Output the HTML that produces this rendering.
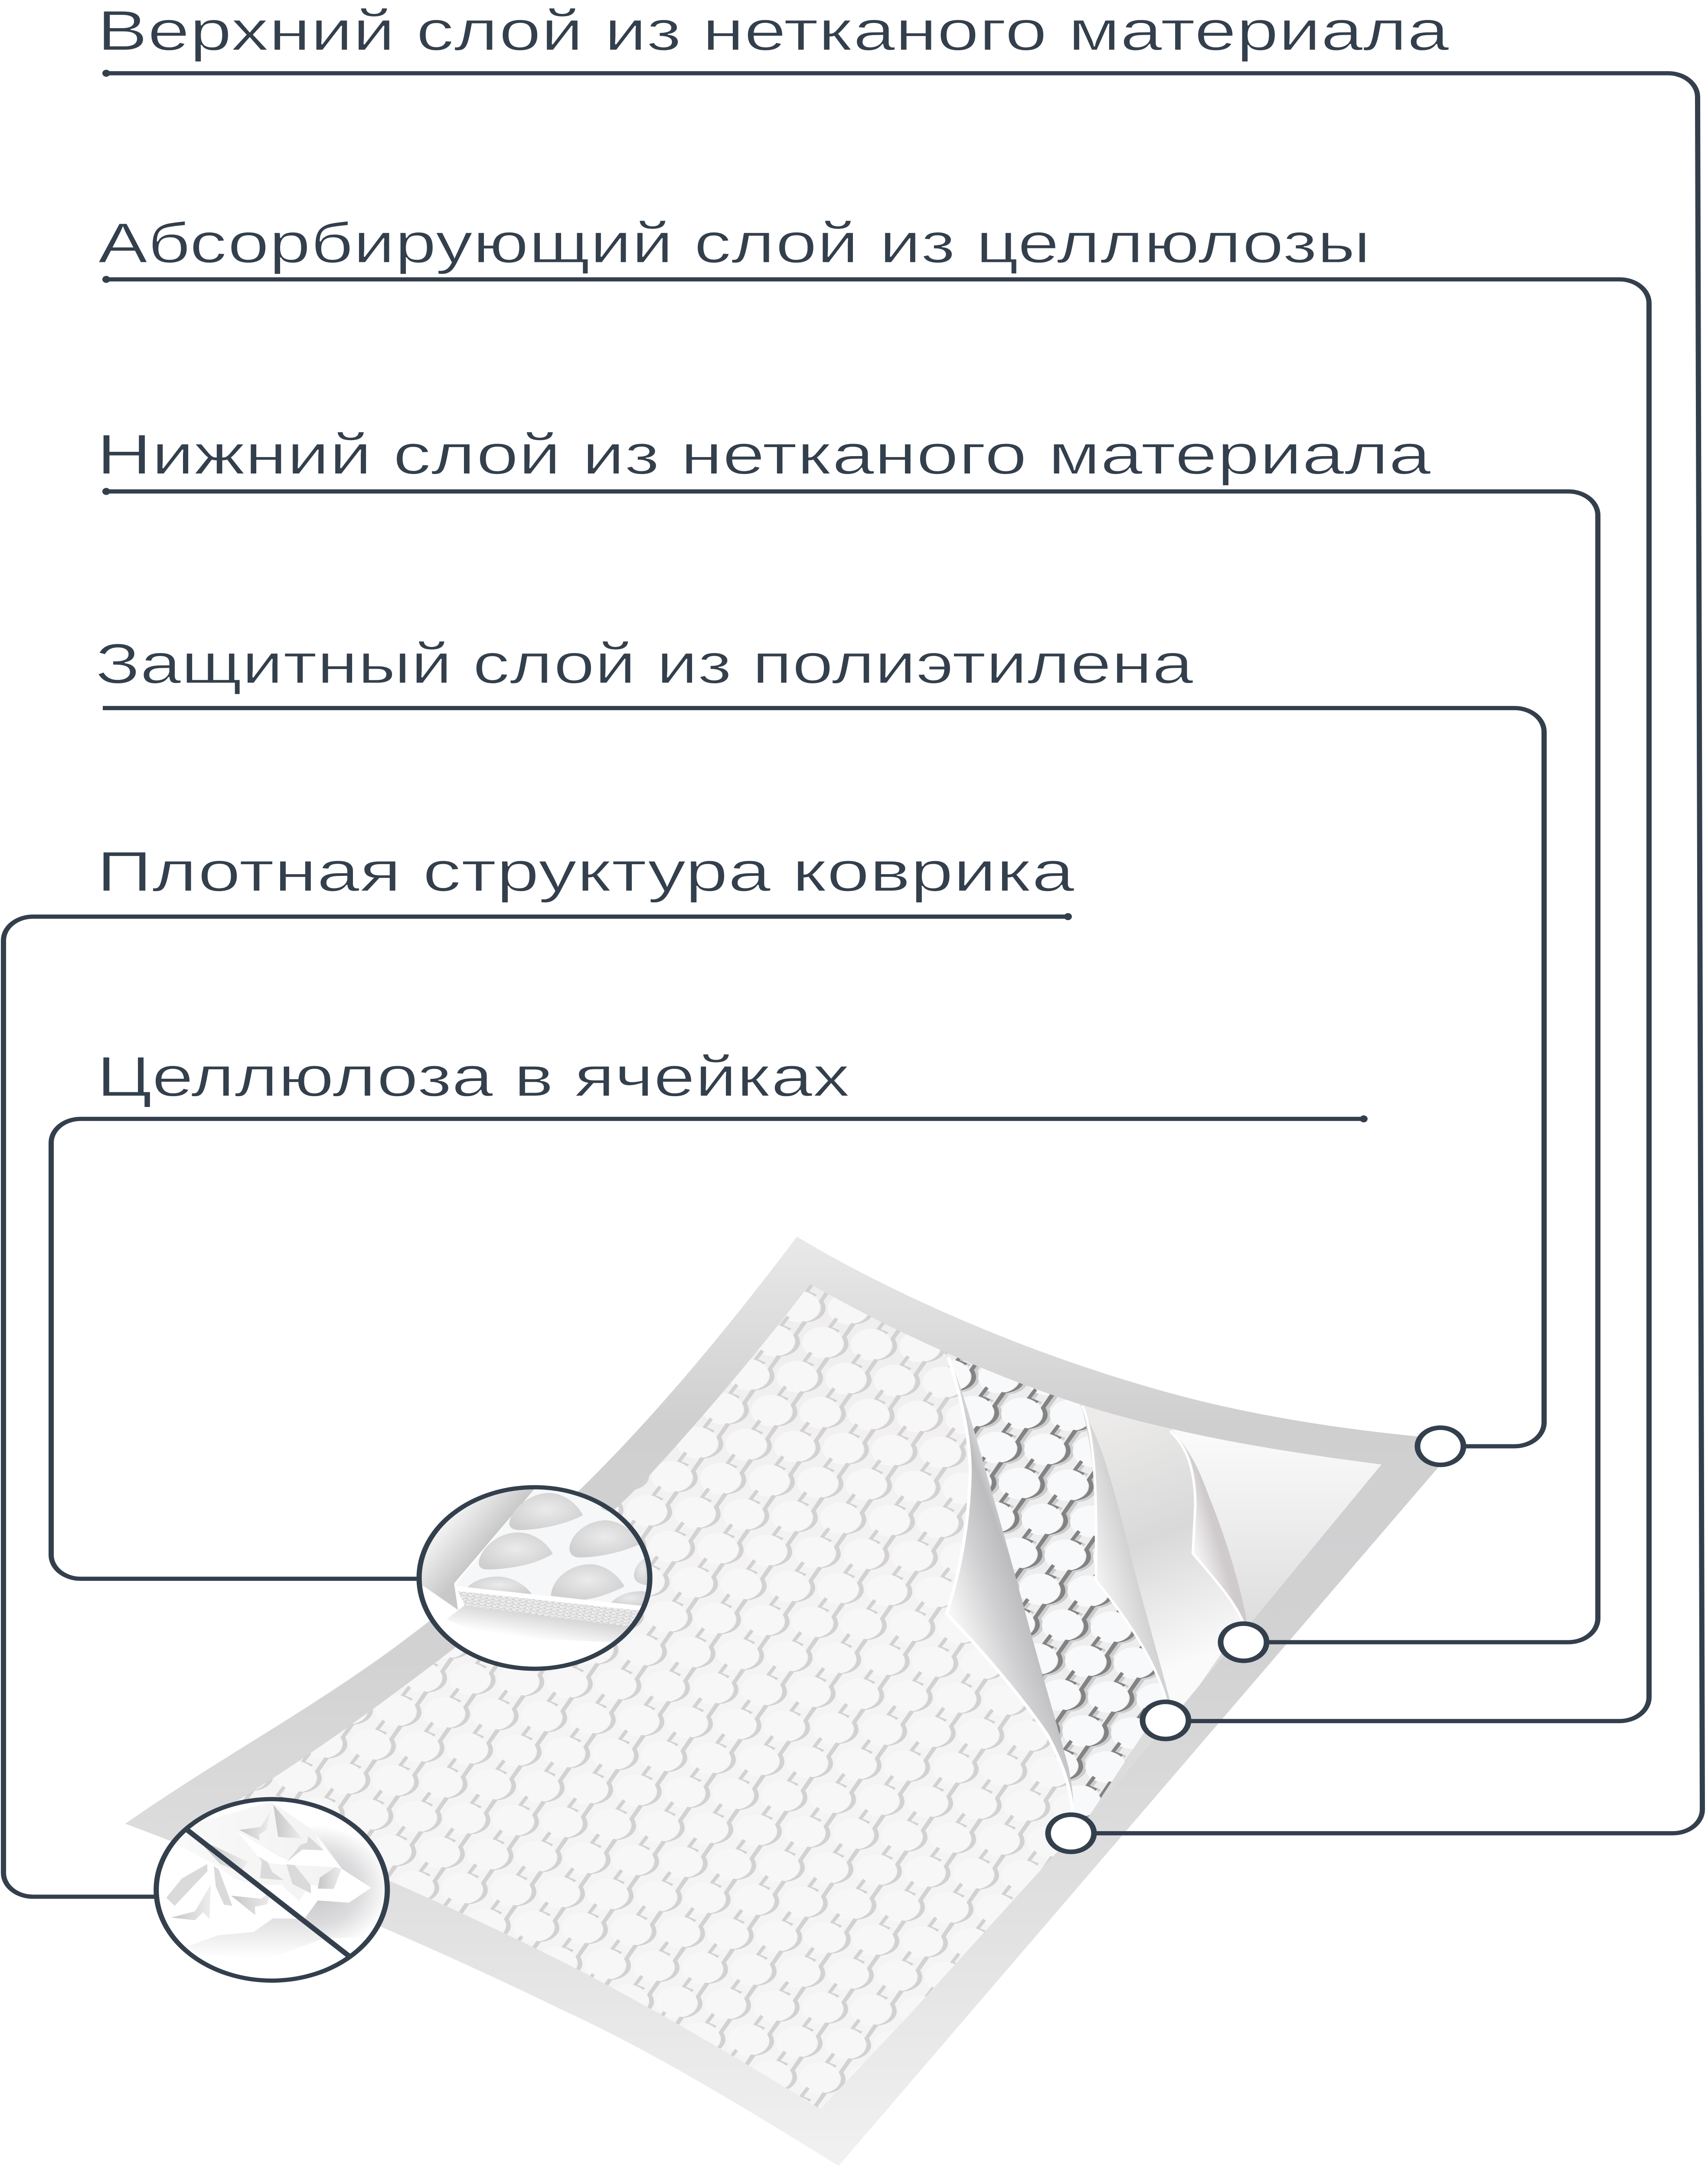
<!DOCTYPE html>
<html lang="ru"><head><meta charset="utf-8"><title>Структура коврика</title>
<style>html,body{margin:0;padding:0;background:#fff;width:100%;height:100%;overflow:hidden}svg{display:block;position:fixed;left:0;top:0;width:100vw;height:100vh}
text{font-family:"Liberation Sans","DejaVu Sans",sans-serif;font-size:162px;fill:#333f4c;stroke:#fff;stroke-width:2.5px}</style></head>
<body>
<svg xmlns="http://www.w3.org/2000/svg" viewBox="0 0 3939 6185" preserveAspectRatio="none">
<defs>
<linearGradient id="band" gradientUnits="userSpaceOnUse" x1="0" y1="3528" x2="0" y2="6179">
<stop offset="0" stop-color="#e9e9ea"/><stop offset=".2" stop-color="#cfcfd0"/><stop offset=".45" stop-color="#d2d2d3"/><stop offset=".7" stop-color="#dfdfe0"/><stop offset="1" stop-color="#f1f1f1"/></linearGradient>
<linearGradient id="base1" gradientUnits="userSpaceOnUse" x1="0" y1="3660" x2="0" y2="4700">
<stop offset="0" stop-color="#efeeef"/><stop offset="1" stop-color="#f5f4f5"/></linearGradient>
<linearGradient id="l4" gradientUnits="userSpaceOnUse" x1="0" y1="290" x2="0" y2="900">
<stop offset="0" stop-color="#fbfbfb"/><stop offset="1" stop-color="#dcdcdc"/></linearGradient>
<linearGradient id="l3" gradientUnits="userSpaceOnUse" x1="560" y1="250" x2="860" y2="950">
<stop offset="0" stop-color="#ecebea"/><stop offset=".5" stop-color="#d9d9d9"/><stop offset="1" stop-color="#fafafa"/></linearGradient>
<linearGradient id="leaf1" gradientUnits="userSpaceOnUse" x1="100" y1="800" x2="340" y2="720">
<stop offset="0" stop-color="#f7f7f7"/><stop offset=".45" stop-color="#d2d2d4"/><stop offset=".8" stop-color="#bcbcbe"/><stop offset="1" stop-color="#e2e2e4"/></linearGradient>
<linearGradient id="leaf2" gradientUnits="userSpaceOnUse" x1="520" y1="760" x2="680" y2="720">
<stop offset="0" stop-color="#f4f4f4"/><stop offset=".6" stop-color="#d6d6d6"/><stop offset="1" stop-color="#c2c2c2"/></linearGradient>
<linearGradient id="leaf3" gradientUnits="userSpaceOnUse" x1="785" y1="660" x2="860" y2="640">
<stop offset="0" stop-color="#fafafa"/><stop offset="1" stop-color="#cfcbcc"/></linearGradient>

<g id="ci"><ellipse cx="-22" cy="52" rx="47" ry="45"/></g>
<path id="cr" d="M44,-4L22,36C27,46 28,52 27,58C25,78 8,93 -14,96C10,99 36,82 38,58C38,50 36,42 33,36L55,-2Z"/>
<path id="ll" d="M7,-20L14,-14L0,8L18,17L13,23C8,16 0,12 -10,8Z"/>
<g id="mk"><use href="#cr"/><use href="#ll"/></g>
<g id="cc"><use href="#ci" x="-53" y="-103"/><use href="#ci" x="59" y="-97"/><use href="#ci" x="171" y="-91"/><use href="#ci" x="-112" y="-5.5"/><use href="#ci"/><use href="#ci" x="112" y="5.5"/><use href="#ci" x="-171" y="91.5"/><use href="#ci" x="-59" y="97"/><use href="#ci" x="53" y="102.5"/></g>
<g id="mm"><use href="#mk" x="-53" y="-103"/><use href="#mk" x="59" y="-97"/><use href="#mk" x="171" y="-91"/><use href="#mk" x="-112" y="-5.5"/><use href="#mk"/><use href="#mk" x="112" y="5.5"/><use href="#mk" x="-171" y="91.5"/><use href="#mk" x="-59" y="97"/><use href="#mk" x="53" y="102.5"/></g>

<pattern id="p1" patternUnits="userSpaceOnUse" width="112" height="97" patternTransform="matrix(1,.0491,-.6082,1,1630,4064)">
<g transform="matrix(.971,-.0477,.5906,.971,0,0)">
<use href="#cc" fill="#f7f7f8"/><use href="#mm" fill="#d3d1d2"/></g></pattern>
<pattern id="p2" patternUnits="userSpaceOnUse" width="112" height="97" patternTransform="matrix(1,.0491,-.6082,1,2266,3975)">
<g transform="matrix(.971,-.0477,.5906,.971,0,0)">
<use href="#mm" fill="#cdcdcd" x="8" y="3"/><use href="#cc" fill="#f8f9fb"/><use href="#mm" fill="#838383"/></g></pattern>
<pattern id="speck" patternUnits="userSpaceOnUse" width="34" height="22" patternTransform="rotate(12)">
<rect width="34" height="22" fill="#e6e6e6"/><rect x="2" y="3" width="14" height="4" fill="#bdbdbd"/><rect x="19" y="9" width="12" height="4" fill="#c6c6c6"/><rect x="5" y="15" width="11" height="4" fill="#cdcdcd"/><rect x="18" y="1" width="9" height="4" fill="#f6f6f6"/><rect x="1" y="9" width="12" height="4" fill="#f7f7f7"/><rect x="20" y="16" width="10" height="4" fill="#f4f4f4"/></pattern>

<clipPath id="inner"><path d="M1868,3663C2020,3770 2250,3910 2490,4006C2720,4095 2950,4140 3186,4178L2730,4862L2515,5178L2100,5744L1892,6017C1700,5870 1500,5725 1300,5598C1100,5475 850,5330 505,5168C650,5065 850,4890 1050,4700C1250,4500 1420,4310 1500,4206C1630,4030 1760,3840 1868,3663Z"/></clipPath>
<clipPath id="mainclip"><path transform="translate(2100,3800) scale(.829,.957)" d="M95,62C140,200 170,330 165,440C160,600 130,740 100,840C200,950 310,1090 380,1200C420,1280 450,1370 450,1440L600,1600L600,2450L-2000,2450L-2000,-400L95,-400Z"/></clipPath>
<clipPath id="secclip"><path transform="translate(2100,3800) scale(.829,.957)" d="M60,20L470,215C500,280 520,400 515,740C600,850 680,980 710,1095L480,1470L400,1470Z"/></clipPath>

<clipPath id="m1"><ellipse cx="745" cy="676" rx="596" ry="580"/></clipPath>
<clipPath id="m2"><ellipse cx="732" cy="653" rx="597" ry="580"/></clipPath>
<linearGradient id="m1band" gradientUnits="userSpaceOnUse" x1="540" y1="405" x2="270" y2="217"><stop offset="0" stop-color="#c8c8c8"/><stop offset="1" stop-color="#fff"/></linearGradient>
<linearGradient id="m1sh" gradientUnits="userSpaceOnUse" x1="830" y1="920" x2="800" y2="1080"><stop offset="0" stop-color="#d6d6d6"/><stop offset="1" stop-color="#fff"/></linearGradient>
<radialGradient id="dome" cx=".5" cy=".45" r=".6"><stop offset="0" stop-color="#ebebeb"/><stop offset="1" stop-color="#cfcfcf"/></radialGradient>
<radialGradient id="m2bk" gradientUnits="userSpaceOnUse" cx="950" cy="640" r="400"><stop offset="0" stop-color="#c4c4c6"/><stop offset=".6" stop-color="#dcdcde"/><stop offset="1" stop-color="#fff"/></radialGradient>
<linearGradient id="m2f" x1="0" y1="0" x2="1" y2="0"><stop offset="0" stop-color="#c6c6c8"/><stop offset="1" stop-color="#ededed"/></linearGradient>
<linearGradient id="m2l" gradientUnits="userSpaceOnUse" x1="0" y1="800" x2="0" y2="1090"><stop offset="0" stop-color="#dcdcde"/><stop offset="1" stop-color="#fff"/></linearGradient>
<linearGradient id="m2c" x1="0" y1="0" x2="1" y2="0"><stop offset="0" stop-color="#fafafa"/><stop offset="1" stop-color="#f1f1f1"/></linearGradient>
</defs>

<rect width="3939" height="6185" fill="#fff"/>

<!-- pad band -->
<path fill="url(#band)" d="M1838,3528C2020,3665 2350,3860 2722,3982C2900,4040 3100,4080 3330,4105L3319,4183L1934,6179C1700,6000 1500,5850 1300,5736C1000,5555 650,5370 289,5203C500,5020 700,4890 910,4700C1150,4480 1340,4260 1500,4040C1620,3875 1730,3705 1838,3528Z"/>

<g clip-path="url(#inner)">
 <!-- bottom layers -->
 <g transform="translate(2100,3800) scale(.829,.957)">
  <rect x="300" y="100" width="1200" height="1500" fill="url(#l4)"/>
  <path fill="url(#l3)" d="M470,205L720,280C760,340 790,400 790,520L785,660C840,730 900,800 925,865L760,1120L700,1120Z"/>
  <path fill="url(#leaf3)" d="M725,295C770,340 800,400 830,490C880,620 920,770 935,860L925,865C900,800 840,730 785,660L790,520C790,400 760,340 725,295Z"/>
  <path fill="none" stroke="#fff" stroke-width="7" d="M722,295C765,340 792,400 792,520L785,660C840,730 900,800 925,865"/>
 </g>
 <!-- second layer -->
 <g clip-path="url(#secclip)">
  <rect x="2100" y="3800" width="800" height="1500" fill="#ededee"/>
  <rect x="2100" y="3800" width="800" height="1500" fill="url(#p2)"/>
 </g>
 <g transform="translate(2100,3800) scale(.829,.957)">
  <path fill="url(#leaf2)" d="M470,215C530,320 560,440 620,700C660,860 700,1010 722,1100L710,1095C680,980 600,850 515,740C520,600 520,400 475,220Z"/>
  <path fill="none" stroke="#fff" stroke-width="7" d="M478,220C510,300 520,460 515,740C600,850 680,980 710,1095"/>
 </g>
 <!-- main layer -->
 <g clip-path="url(#mainclip)">
  <rect x="400" y="3600" width="2300" height="2500" fill="url(#base1)"/>
  <rect x="400" y="3600" width="2300" height="2500" fill="url(#p1)"/>
 </g>
 <g transform="translate(2100,3800) scale(.829,.957)">
  <path fill="url(#leaf1)" d="M105,75C130,130 160,230 200,380C240,530 280,680 320,840C360,1000 410,1180 440,1300C450,1360 455,1400 452,1440C445,1350 420,1280 380,1200C310,1090 200,950 100,840C130,740 160,600 165,440C170,330 140,190 105,75Z"/>
  <path fill="none" stroke="#fff" stroke-width="9" d="M105,75C140,190 170,330 165,440C160,600 130,740 100,840C200,950 310,1090 380,1200C420,1280 445,1350 452,1440"/>
 </g>
</g>

<!-- connectors -->
<g fill="none" stroke="#333f4c" stroke-width="12">
<path d="M240,209H3847A68,68 0 0 1 3915,277L3926,5162A68,68 0 0 1 3858,5230H2525"/>
<path d="M240,797H3735A68,68 0 0 1 3803,865V4842A68,68 0 0 1 3735,4910H2745"/>
<path d="M240,1402H3617A68,68 0 0 1 3685,1470V4617A68,68 0 0 1 3617,4685H2925"/>
<path d="M237,2020H3493A68,68 0 0 1 3561,2088V4058A68,68 0 0 1 3493,4126H3380"/>
<path d="M2465,2615H76A68,68 0 0 0 8,2683V5343A68,68 0 0 0 76,5411H360"/>
<path d="M3148,3192H186A68,68 0 0 0 118,3260V4436A68,68 0 0 0 186,4504H965"/>
</g>
<g fill="#333f4c">
<ellipse cx="245" cy="209" rx="9" ry="10"/><ellipse cx="245" cy="797" rx="9" ry="10"/><ellipse cx="245" cy="1402" rx="9" ry="10"/>
<ellipse cx="2463" cy="2615" rx="9" ry="10"/><ellipse cx="3145" cy="3192" rx="9" ry="10"/>
</g>

<!-- markers -->
<g fill="#fff" stroke="#333f4c" stroke-width="13">
<circle cx="3322" cy="4126" r="53"/><circle cx="2868" cy="4685" r="53"/><circle cx="2688" cy="4908" r="53"/><circle cx="2470" cy="5230" r="53"/>
</g>

<!-- magnifier 1 -->
<g transform="translate(900,4200) scale(.4464)">
<ellipse cx="745" cy="676" rx="596" ry="580" fill="#fff"/>
<g clip-path="url(#m1)">
<path fill="url(#m1band)" d="M750,100L330,710L350,880L140,700L140,300L450,90Z"/>
<path fill="#f6f7f8" d="M750,100L1345,100L1345,875L335,725Z"/>
<g fill="url(#dome)">
<path d="M615,320C630,230 720,135 820,133C900,133 970,210 995,275C900,340 750,370 660,370C620,365 612,340 615,320Z"/>
<path d="M458,570C470,480 560,385 660,385C740,385 810,450 840,522C750,590 620,620 500,622C465,620 455,600 458,570Z"/>
<path d="M926,480C935,390 1020,310 1110,307C1180,307 1260,370 1290,460C1200,510 1080,545 970,545C935,540 924,510 926,480Z"/>
<path d="M830,790C835,680 930,590 1030,588C1110,588 1180,660 1210,730C1130,780 1050,810 1000,815Z"/>
<path d="M400,735C430,690 500,665 560,667C630,670 700,720 735,785Z"/>
<path d="M1140,835C1180,780 1240,760 1300,760L1345,770L1345,860Z"/>
<path d="M1260,650C1265,600 1290,560 1345,530L1345,725C1290,720 1255,700 1260,650Z"/>
<path d="M1090,225C1100,205 1120,195 1150,195L1190,260C1140,255 1100,250 1090,225Z"/>
</g>
<path fill="url(#m1sh)" d="M385,850L1260,990L1200,1090L500,1050L290,940Z"/>
<path fill="url(#speck)" d="M350,760L1290,885L1265,992L385,852Z"/>
<path fill="#fff" d="M338,728L1310,855L1300,882L345,752Z"/>
</g>
<ellipse cx="745" cy="676" rx="596" ry="580" fill="none" stroke="#333f4c" stroke-width="27"/>
</g>

<!-- magnifier 2 -->
<g transform="translate(300,5100) scale(.4464)">
<ellipse cx="732" cy="653" rx="597" ry="580" fill="#fff"/>
<g clip-path="url(#m2)">
<path fill="url(#m2bk)" d="M730,90L1320,400L1320,960L880,960L905,830L970,720L1130,735L1245,640L1095,520L960,285Z"/>
<path fill="url(#m2l)" d="M295,1015L455,943L638,922L738,835L880,838L1010,960L700,1100L350,1070Z"/>
<path fill="url(#m2c)" d="M130,300L730,90L960,285L1095,520L1245,640L1130,735L970,720L905,830L840,760L785,620L700,710L560,600L450,500L300,400Z"/>
<path fill="#fff" d="M555,280L770,440L815,462L1030,500L1090,515L1245,640L1130,735L970,720L905,830L830,835L738,835L638,922L455,943L295,1015L180,780L150,650L300,500L400,490L432,500L520,570L640,625L780,620L875,725L905,660L935,675L932,620L1050,650L970,645L980,575L1060,508L850,495L808,490L775,492L680,470Z"/>
<path fill="#fff" d="M810,478L890,395L1000,400L950,285L1030,420L1092,515L1030,500L840,495Z"/>
<g fill="#dadadb">
<path fill="url(#m2f)" d="M740,110L765,315L890,325Z"/>
<path fill="url(#m2f)" d="M725,150L675,250L565,270L670,338L665,300L705,270Z"/>
<path d="M920,310L915,350L880,365L810,475L890,395L1000,400Z"/>
<path d="M555,280L680,470L672,578L795,592L735,540L710,475L660,440Z"/>
<path d="M808,490L850,495L932,620L935,675L838,615Z"/>
<path fill="url(#m2f)" d="M1060,508L980,575L970,645L1052,647L1092,520Z"/>
<path d="M398,488L268,580L187,703L230,755L400,533Z"/>
<path d="M432,500L458,522L528,755L485,748L443,632Z"/>
<path fill="url(#m2f)" d="M417,620L335,790L212,830L335,847L378,795L410,840Z"/>
<path fill="url(#m2f)" d="M522,690L678,710L730,660L708,745L645,760L647,815Z"/>
<path fill="url(#m2f)" d="M420,365L610,475L570,540L465,488L378,370Z"/>
</g>
</g>
<path d="M290,265L1130,1075" stroke="#333f4c" stroke-width="30" fill="none"/>
<ellipse cx="732" cy="653" rx="597" ry="580" fill="none" stroke="#333f4c" stroke-width="27"/>
</g>

<!-- labels -->
<text x="224" y="143" textLength="3118" lengthAdjust="spacingAndGlyphs">Верхний слой из нетканого материала</text>
<text x="226" y="749" textLength="2935" lengthAdjust="spacingAndGlyphs">Абсорбирующий слой из целлюлозы</text>
<text x="223" y="1352" textLength="3077" lengthAdjust="spacingAndGlyphs">Нижний слой из нетканого материала</text>
<text x="220" y="1949" textLength="2532" lengthAdjust="spacingAndGlyphs">Защитный слой из полиэтилена</text>
<text x="223" y="2542" textLength="2255" lengthAdjust="spacingAndGlyphs">Плотная структура коврика</text>
<text x="223" y="3127" textLength="1737" lengthAdjust="spacingAndGlyphs">Целлюлоза в ячейках</text>
</svg>
</body></html>
